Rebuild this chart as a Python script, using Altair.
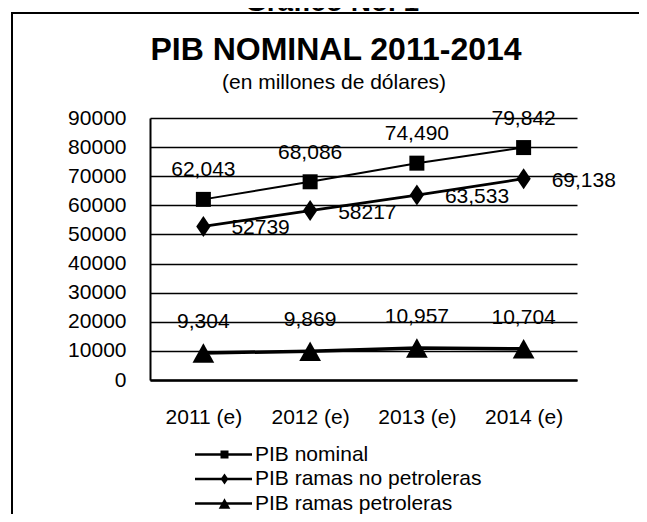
import altair as alt
import pandas as pd

# ---- data ----
categorias = ["2011 (e)", "2012 (e)", "2013 (e)", "2014 (e)"]
series = ["PIB nominal", "PIB ramas no petroleras", "PIB ramas petroleras"]
pib_nominal = [62043, 68086, 74490, 79842]
pib_no_petroleras = [52739, 58217, 63533, 69138]
pib_petroleras = [9304, 9869, 10957, 10704]
etiquetas_nominal = ["62,043", "68,086", "74,490", "79,842"]
etiquetas_no_petroleras = ["52739", "58217", "63,533", "69,138"]
etiquetas_petroleras = ["9,304", "9,869", "10,957", "10,704"]
y_ticks = [0, 10000, 20000, 30000, 40000, 50000, 60000, 70000, 80000, 90000]
titulo = "PIB NOMINAL 2011-2014"
subtitulo = "(en millones de dólares)"
encabezado = "Gráfico No. 1"

rows = []
for serie, vals, labs in zip(series,
                             [pib_nominal, pib_no_petroleras, pib_petroleras],
                             [etiquetas_nominal, etiquetas_no_petroleras, etiquetas_petroleras]):
    for c, v, l in zip(categorias, vals, labs):
        rows.append({"anio": c, "valor": v, "serie": serie, "serie_l": serie, "etiqueta": l})
df = pd.DataFrame(rows)
uno = pd.DataFrame({"k": [0]})

FONT = "Liberation Sans"
W, H = 427, 262
LX, LY = 63, 326
LOFF = 19
RP = 2.5

x_enc = alt.X("anio:N", sort=categorias,
              scale=alt.Scale(type="point", padding=0.5),
              axis=alt.Axis(title=None, ticks=False, tickSize=0, labelPadding=37,
                            labelBaseline="middle", labelAngle=0, labelFontSize=21,
                            labelFont=FONT, labelColor="black", domainColor="black",
                            domainWidth=2.5, grid=False))
y_enc = alt.Y("valor:Q", scale=alt.Scale(domain=[0, 90000], nice=False),
              axis=alt.Axis(title=None, values=y_ticks, format="d", ticks=False, tickSize=0,
                            labelPadding=24, labelFontSize=21, labelFont=FONT,
                            labelColor="black", domainColor="black", domainWidth=2,
                            grid=True, gridColor="black", gridWidth=1.5, gridOpacity=1))

base = alt.Chart(df).encode(x=x_enc, y=y_enc)

lineas = base.mark_line().encode(
    color=alt.Color("serie_l:N", sort=series,
                    scale=alt.Scale(range=["black", "black", "black"]),
                    legend=alt.Legend(title=None, orient="none", legendX=LX, legendY=LY,
                                      symbolType="M-5.7,0H5.7", symbolSize=100,
                                      symbolStrokeWidth=2.5, symbolStrokeColor="black",
                                      labelExpr="''", labelFontSize=21, labelFont=FONT,
                                      labelOffset=LOFF, rowPadding=RP, padding=0)),
    strokeWidth=alt.StrokeWidth("serie_l:N", sort=series,
                                scale=alt.Scale(range=[2, 3.5, 4]), legend=None),
)

sq = "M-1,-1H1V1H-1Z"
di = "M0,-1.4L0.95,0L0,1.4L-0.95,0Z"
tri = "M0,-1.3L1.45,1.3L-1.45,1.3Z"

puntos = base.mark_point(filled=True, opacity=1, color="black").encode(
    shape=alt.Shape("serie:N", sort=series, scale=alt.Scale(range=[sq, di, tri]),
                    legend=alt.Legend(title=None, orient="none", legendX=LX + 1, legendY=LY,
                                      symbolSize=64, symbolFillColor="black",
                                      symbolStrokeWidth=0,
                                      labelFontSize=21, labelFont=FONT, labelColor="black",
                                      labelLimit=400, labelOffset=LOFF + 1, rowPadding=RP,
                                      padding=0)),
    size=alt.value(225),
)

txt_kw = dict(fontSize=21, font=FONT, color="black")
t_nom = base.transform_filter(alt.datum.serie == series[0]).mark_text(dy=-29, **txt_kw).encode(text="etiqueta:N")
t_nop = base.transform_filter(alt.datum.serie == series[1]).mark_text(align="left", dx=28, dy=2, **txt_kw).encode(text="etiqueta:N")
t_pet = base.transform_filter(alt.datum.serie == series[2]).mark_text(dy=-31, **txt_kw).encode(text="etiqueta:N")

marco = alt.Chart(uno).mark_rect(fillOpacity=0, stroke="black", strokeWidth=2).encode(
    x=alt.value(-138), x2=alt.value(520), y=alt.value(-105), y2=alt.value(450))

cab = alt.Chart(uno).mark_text(text=encabezado, fontSize=28, fontWeight="bold", font=FONT,
                               color="black", baseline="alphabetic").encode(
    x=alt.value(182), y=alt.value(-107))
tit = alt.Chart(uno).mark_text(text=titulo, fontSize=32, fontWeight="bold", font=FONT,
                               color="black", baseline="alphabetic").encode(
    x=alt.value(186), y=alt.value(-58))
sub = alt.Chart(uno).mark_text(text=subtitulo, fontSize=21, font=FONT,
                               color="black", baseline="alphabetic").encode(
    x=alt.value(184), y=alt.value(-29))

chart = alt.layer(marco, cab, tit, sub, lineas, puntos, t_nom, t_nop, t_pet).resolve_scale(
    color="independent", shape="independent"
).properties(
    width=W, height=H,
    autosize=alt.AutoSizeParams(type="none"),
    padding={"left": 142, "top": 110, "right": 62, "bottom": 134},
    background="white",
).configure_view(strokeWidth=0)

chart.save("out.html", embed_options={"renderer": "svg", "actions": False})
